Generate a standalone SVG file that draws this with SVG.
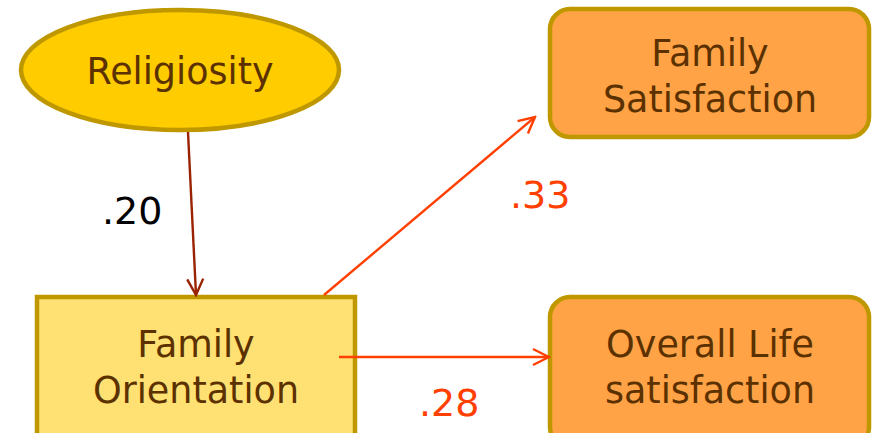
<svg xmlns="http://www.w3.org/2000/svg" width="873" height="433" viewBox="0 0 873 433">
<defs>
<style>
.t{font-family:"DejaVu Sans","Verdana",sans-serif;font-size:36.5px;fill:#5C3100;text-anchor:middle}
.lbl{font-family:"DejaVu Sans","Verdana",sans-serif;font-size:38px}
.node{stroke:#BF9800;stroke-width:4.5}
</style>
<marker id="ad" viewBox="0 0 20 20" refX="18" refY="10" markerWidth="20" markerHeight="20" markerUnits="userSpaceOnUse" orient="auto"><path d="M2,2 L18,10 L2,18" fill="none" stroke="#992200" stroke-width="2.4"/></marker>
<marker id="ao" viewBox="0 0 20 20" refX="18" refY="10" markerWidth="20" markerHeight="20" markerUnits="userSpaceOnUse" orient="auto"><path d="M2,2 L18,10 L2,18" fill="none" stroke="#FF4000" stroke-width="2.4"/></marker>
</defs>
<rect width="873" height="433" fill="#FFFFFF"/>
<g id="religiosity">
<ellipse class="node" cx="180" cy="70" rx="159" ry="60" fill="#FFCC00"/>
<text class="t" x="180" y="84">Religiosity</text>
</g>
<g id="family-orientation">
<rect class="node" x="37" y="297" width="318" height="145" fill="#FFE072"/>
<text class="t" x="196" y="357">Family</text>
<text class="t" x="196" y="403">Orientation</text>
</g>
<g id="family-satisfaction">
<rect class="node" x="550" y="9" width="319" height="128" rx="20" fill="#FFA346"/>
<text class="t" x="710" y="66">Family</text>
<text class="t" x="710" y="112">Satisfaction</text>
</g>
<g id="overall-life">
<rect class="node" x="550" y="297" width="319" height="150" rx="20" fill="#FFA346"/>
<text class="t" x="710" y="357">Overall Life</text>
<text class="t" x="710" y="403">satisfaction</text>
</g>
<g id="connectors">
<line x1="188" y1="132" x2="196" y2="295" stroke="#992200" stroke-width="2.4" marker-end="url(#ad)"/>
<line x1="324" y1="295" x2="535" y2="117" stroke="#FF4000" stroke-width="2.4" marker-end="url(#ao)"/>
<line x1="339" y1="357" x2="549" y2="357" stroke="#FF4000" stroke-width="2.4" marker-end="url(#ao)"/>
</g>
<g id="labels">
<text class="lbl" x="102" y="224" fill="#000000">.20</text>
<text class="lbl" x="510" y="208" fill="#FF4000">.33</text>
<text class="lbl" x="419" y="416" fill="#FF4000">.28</text>
</g>
</svg>
